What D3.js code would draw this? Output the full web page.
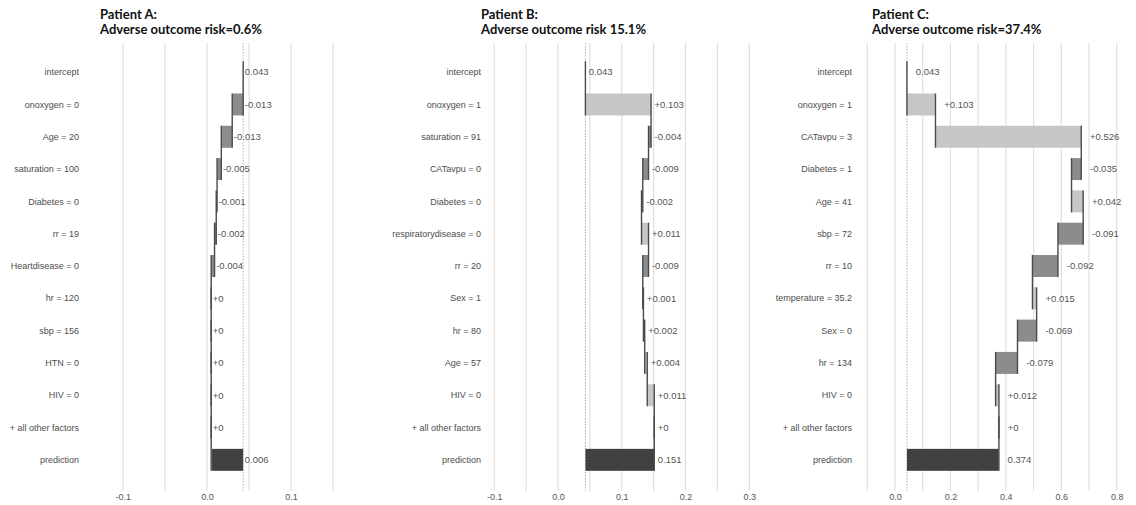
<!DOCTYPE html>
<html>
<head>
<meta charset="utf-8">
<script src="https://cdn.jsdelivr.net/npm/d3@7.9.0/dist/d3.min.js"></script>
<style>
  body { margin: 0; background: #fff; }
  svg { display: block; font-family: "Liberation Sans", Arial, sans-serif; }
</style>
</head>
<body>
<svg id="chart" width="1136" height="505"></svg>
<script>
// --- data ---
const titlesA = ["Patient A:", "Adverse outcome risk=0.6%"];
const titlesB = ["Patient B:", "Adverse outcome risk 15.1%"];
const titlesC = ["Patient C:", "Adverse outcome risk=37.4%"];

const factorsA = ["intercept", "onoxygen = 0", "Age = 20", "saturation = 100", "Diabetes = 0",
  "rr = 19", "Heartdisease = 0", "hr = 120", "sbp = 156", "HTN = 0", "HIV = 0",
  "+ all other factors", "prediction"];
const contribA = [-0.013, -0.013, -0.005, -0.001, -0.002, -0.004, 0, 0, 0, 0, 0];
const interceptA = 0.043;
const predictionA = 0.006;

const factorsB = ["intercept", "onoxygen = 1", "saturation = 91", "CATavpu = 0", "Diabetes = 0",
  "respiratorydisease = 0", "rr = 20", "Sex = 1", "hr = 80", "Age = 57", "HIV = 0",
  "+ all other factors", "prediction"];
const contribB = [0.103, -0.004, -0.009, -0.002, 0.011, -0.009, 0.001, 0.002, 0.004, 0.011, 0];
const interceptB = 0.043;
const predictionB = 0.151;

const factorsC = ["intercept", "onoxygen = 1", "CATavpu = 3", "Diabetes = 1", "Age = 41",
  "sbp = 72", "rr = 10", "temperature = 35.2", "Sex = 0", "hr = 134", "HIV = 0",
  "+ all other factors", "prediction"];
const contribC = [0.103, 0.526, -0.035, 0.042, -0.091, -0.092, 0.015, -0.069, -0.079, 0.012, 0];
const interceptC = 0.043;
const predictionC = 0.374;

const ticksA = [-0.1, 0.0, 0.1];
const ticksB = [-0.1, 0.0, 0.1, 0.2, 0.3];
const ticksC = [0.0, 0.2, 0.4, 0.6, 0.8];

// --- layout for each panel ---
const panels = [
  { titles: titlesA, factors: factorsA, contrib: contribA, intercept: interceptA, prediction: predictionA,
    ticks: ticksA, gridStep: 0.05, domain: [-0.145, 0.17], range: [85, 350], labelRight: 79, titleX: 100 },
  { titles: titlesB, factors: factorsB, contrib: contribB, intercept: interceptB, prediction: predictionB,
    ticks: ticksB, gridStep: 0.05, domain: [-0.1145, 0.3247], range: [485, 765], labelRight: 481, titleX: 481 },
  { titles: titlesC, factors: factorsC, contrib: contribC, intercept: interceptC, prediction: predictionC,
    ticks: ticksC, gridStep: 0.1, domain: [-0.1336, 0.848], range: [858, 1130], labelRight: 852, titleX: 872 }
];

const colPos = "#c6c6c6", colNeg = "#8c8c8c", colPred = "#414141", colLine = "#4a4a4a";
const svg = d3.select("#chart");
const gridTop = 43, gridBottom = 491;

function drawPanel(p) {
  const g = svg.append("g");
  const x = d3.scaleLinear().domain(p.domain).range(p.range);
  const y = d3.scaleBand().domain(d3.range(p.factors.length)).range([56, 476])
    .paddingInner(0.32).paddingOuter(0.16);

  // build the waterfall rows
  const rows = [];
  let cum = p.intercept;
  rows.push({ label: p.factors[0], prev: p.intercept, cum: p.intercept, kind: "intercept", text: String(p.intercept) });
  p.contrib.forEach((v, i) => {
    const prev = cum;
    cum = +(cum + v).toFixed(6);
    rows.push({ label: p.factors[i + 1], prev, cum, kind: v < 0 ? "neg" : "pos",
      text: v === 0 ? "+0" : (v > 0 ? "+" : "") + v });
  });
  rows.push({ label: p.factors[p.factors.length - 1], prev: p.intercept, cum: p.prediction, kind: "pred", text: String(p.prediction) });

  const allCum = rows.map(r => r.cum);
  const nudge = 0.05 * (d3.max(allCum) - d3.min(allCum));

  // gridlines
  const [d0, d1] = p.domain;
  const gridVals = d3.range(Math.ceil(d0 / p.gridStep), Math.floor(d1 / p.gridStep) + 1).map(k => k * p.gridStep);
  g.selectAll(".grid").data(gridVals).join("line")
    .attr("x1", d => x(d)).attr("x2", d => x(d))
    .attr("y1", gridTop).attr("y2", gridBottom)
    .attr("stroke", "#e0e0e0").attr("stroke-width", 1.2);

  // intercept reference (dotted)
  g.append("line")
    .attr("x1", x(p.intercept)).attr("x2", x(p.intercept))
    .attr("y1", gridTop).attr("y2", gridBottom)
    .attr("stroke", "#9a9a9a").attr("stroke-width", 0.8).attr("stroke-dasharray", "1.5,1.5");

  // bars
  g.selectAll(".bar").data(rows.filter(r => r.kind !== "intercept")).join("rect")
    .attr("x", d => x(Math.min(d.prev, d.cum)))
    .attr("width", d => Math.abs(x(d.cum) - x(d.prev)))
    .attr("y", d => y(rows.indexOf(d)))
    .attr("height", y.bandwidth())
    .attr("fill", d => d.kind === "pred" ? colPred : d.kind === "neg" ? colNeg : colPos);

  // connectors: from top of row i to bottom of row i+1 at cumulative value
  g.selectAll(".conn").data(rows.slice(0, -1)).join("line")
    .attr("x1", d => x(d.cum)).attr("x2", d => x(d.cum))
    .attr("y1", (d, i) => y(i))
    .attr("y2", (d, i) => y(i + 1) + y.bandwidth())
    .attr("stroke", colLine).attr("stroke-width", 1.4);

  // value labels
  g.selectAll(".val").data(rows).join("text")
    .attr("x", d => x(Math.max(d.prev, d.cum) + nudge))
    .attr("y", (d, i) => y(i) + y.bandwidth() / 2)
    .attr("dy", "0.35em")
    .attr("font-size", 9.5).attr("fill", "#555")
    .text(d => d.text);

  // factor labels
  g.selectAll(".lab").data(rows).join("text")
    .attr("x", p.labelRight)
    .attr("y", (d, i) => y(i) + y.bandwidth() / 2)
    .attr("dy", "0.35em").attr("text-anchor", "end")
    .attr("font-size", 9).attr("fill", "#4d4d4d")
    .text(d => d.label);

  // x axis
  const axis = d3.axisBottom(x).tickValues(p.ticks).tickSize(0).tickFormat(d => d.toFixed(1));
  const ax = g.append("g").attr("transform", `translate(0,${gridBottom})`).call(axis);
  ax.select(".domain").remove();
  ax.selectAll("text").attr("font-size", 9).attr("fill", "#555")
    .attr("font-family", "Liberation Sans, Arial, sans-serif");

  // titles
  g.selectAll(".title").data(p.titles).join("text")
    .attr("x", p.titleX)
    .attr("y", (d, i) => 19 + i * 15)
    .attr("font-family", "Lato, 'Open Sans', sans-serif")
    .attr("font-weight", "bold").attr("font-size", 13).attr("fill", "#111")
    .text(d => d);
}

panels.forEach(drawPanel);
</script>
</body>
</html>
